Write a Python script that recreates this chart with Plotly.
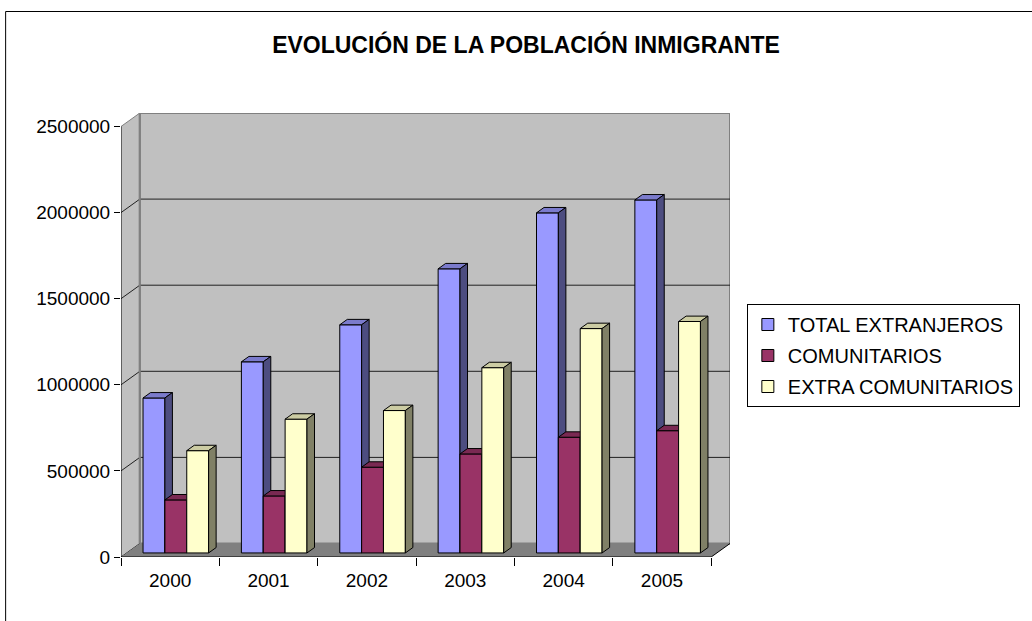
import plotly.graph_objects as go

# ---------------- data ----------------
years = ["2000", "2001", "2002", "2003", "2004", "2005"]
total_extranjeros = [900000, 1110000, 1325000, 1650000, 1975000, 2050000]
comunitarios = [308000, 331000, 498000, 575000, 672000, 710000]
extra_comunitarios = [594000, 777000, 827000, 1076000, 1303000, 1344000]
series_names = ["TOTAL EXTRANJEROS", "COMUNITARIOS", "EXTRA COMUNITARIOS"]
y_ticks = [0, 500000, 1000000, 1500000, 2000000, 2500000]
title_text = "EVOLUCIÓN DE LA POBLACIÓN INMIGRANTE"

series_values = [total_extranjeros, comunitarios, extra_comunitarios]

# ---------------- style ----------------
FONT = "Liberation Sans, Arial, sans-serif"
front_col = ["#9999FF", "#993366", "#FFFFCC"]
top_col = ["#7B7BCC", "#7A2952", "#CCCCA3"]
side_col = ["#4D4D80", "#4D1A33", "#808066"]

W, H = 1032, 621
cat_px = 99.33                 # pixels per category
val_px = 86.1 / 500000         # pixels per value unit
depth_x = 19 / cat_px          # 3D depth offset in category units
depth_y = 13.5 / val_px        # 3D depth offset in value units
y_top = y_ticks[-1]
n = len(years)

x_range = [-0.5, n - 0.5 + depth_x]
y_range = [0, y_top + depth_y]
plot_w = (x_range[1] - x_range[0]) * cat_px
plot_h = (y_range[1] - y_range[0]) * val_px
ML, MB = 121, 64
MT = H - MB - plot_h
MR = W - ML - plot_w

bw = 1 / 4.5          # bar width (gap width 150%)
f0, f1 = 0.3, 0.7     # depth slice occupied by the bars

fig = go.Figure()

# ---------------- walls / floor (shapes) ----------------
shapes = []
lx0, lx1 = -0.5, -0.5 + depth_x
rx0, rx1 = n - 0.5, n - 0.5 + depth_x
# left wall
shapes.append(dict(type="path", xref="x", yref="y", layer="below",
                   path=f"M{lx0},0 L{lx1},{depth_y} L{lx1},{y_top + depth_y} L{lx0},{y_top} Z",
                   fillcolor="#C0C0C0", line=dict(color="#C0C0C0", width=0)))
# back wall
shapes.append(dict(type="rect", xref="x", yref="y", layer="below",
                   x0=lx1, x1=rx1, y0=depth_y, y1=y_top + depth_y,
                   fillcolor="#C0C0C0", line=dict(color="#808080", width=2)))
# gridlines on back wall and left wall
for v in y_ticks:
    if 0 < v < y_top:
        shapes.append(dict(type="line", xref="x", yref="y", layer="below",
                           x0=lx1, x1=rx1, y0=v + depth_y, y1=v + depth_y,
                           line=dict(color="#202020", width=1)))
    shapes.append(dict(type="line", xref="x", yref="y", layer="below",
                       x0=lx0, x1=lx1, y0=v, y1=v + depth_y,
                       line=dict(color="#202020" if v < y_top else "#808080", width=1)))
# floor
shapes.append(dict(type="path", xref="x", yref="y", layer="below",
                   path=f"M{lx0},0 L{rx0},0 L{rx1},{depth_y} L{lx1},{depth_y} Z",
                   fillcolor="#808080", line=dict(color="#808080", width=0)))
# edge between left wall and back wall
shapes.append(dict(type="line", xref="x", yref="y", layer="below",
                   x0=lx1, x1=lx1, y0=depth_y, y1=y_top + depth_y,
                   line=dict(color="#808080", width=2)))
# front axes
shapes.append(dict(type="line", xref="x", yref="y", layer="above",
                   x0=lx0, x1=lx0, y0=0, y1=y_top, line=dict(color="black", width=1)))
shapes.append(dict(type="line", xref="x", yref="y", layer="above",
                   x0=lx0, x1=rx0, y0=0, y1=0, line=dict(color="black", width=1)))
shapes.append(dict(type="line", xref="x", yref="y", layer="above",
                   x0=rx0, x1=rx1, y0=0, y1=depth_y, line=dict(color="black", width=1)))
# outer chart border
px2x = lambda p: (p - ML) / plot_w
py2y = lambda p: (H - MB - p) / plot_h
shapes.append(dict(type="rect", xref="paper", yref="paper", layer="above",
                   x0=px2x(4.5), x1=px2x(W + 10), y0=py2y(H + 10), y1=py2y(11.5),
                   line=dict(color="black", width=1), fillcolor="rgba(0,0,0,0)"))

# ---------------- 3D bars as polygons ----------------
ddx = (f1 - f0) * depth_x
ddy = (f1 - f0) * depth_y
sx = f0 * depth_x
sy = f0 * depth_y


def poly_trace(xs, ys, color):
    return go.Scatter(x=xs, y=ys, mode="lines", fill="toself", fillcolor=color,
                      line=dict(color="black", width=1), hoverinfo="skip",
                      showlegend=False)


for j, vals in enumerate(series_values):
    fx, fy, tx, ty, sxs, sys_ = [], [], [], [], [], []
    for i, v in enumerate(vals):
        x0 = i + (j - 1) * bw - bw / 2 + sx
        x1 = x0 + bw
        yb = sy
        yt = sy + v
        fx += [x0, x1, x1, x0, x0, None]
        fy += [yb, yb, yt, yt, yb, None]
        tx += [x0, x1, x1 + ddx, x0 + ddx, x0, None]
        ty += [yt, yt, yt + ddy, yt + ddy, yt, None]
        sxs += [x1, x1 + ddx, x1 + ddx, x1, x1, None]
        sys_ += [yb, yb + ddy, yt + ddy, yt, yb, None]
    fig.add_trace(poly_trace(fx, fy, front_col[j]))
    fig.add_trace(poly_trace(tx, ty, top_col[j]))
    fig.add_trace(poly_trace(sxs, sys_, side_col[j]))

# legend entries
for j, name in enumerate(series_names):
    fig.add_trace(go.Bar(x=[None], y=[None], name=name, legendgroup=name,
                         marker=dict(color=front_col[j], line=dict(color="black", width=1))))

fig.update_layout(
    width=W, height=H,
    margin=dict(l=ML, r=MR, t=MT, b=MB, pad=0),
    paper_bgcolor="white", plot_bgcolor="white",
    font=dict(family=FONT, size=19, color="black"),
    title=dict(text=f"<b>{title_text}</b>", x=526 / W, xref="container", xanchor="center",
               y=1 - 45 / H, yref="container", yanchor="middle",
               font=dict(family=FONT, size=23, color="black")),
    barmode="overlay",
    showlegend=True,
    legend=dict(x=px2x(753), y=py2y(304), xanchor="left", yanchor="top",
                bordercolor="black", borderwidth=1, bgcolor="white",
                font=dict(family=FONT, size=20, color="black"),
                tracegroupgap=2, itemclick=False, itemdoubleclick=False),
    shapes=shapes,
    xaxis=dict(range=x_range, showgrid=False, zeroline=False, showline=False,
               tickmode="array", tickvals=list(range(n)), ticktext=years, ticks="",
               tickfont=dict(family=FONT, size=19), ticklabelstandoff=10,
               minor=dict(tickmode="array", tickvals=[k - 0.5 for k in range(n + 1)],
                          ticks="outside", ticklen=8, tickcolor="black", tickwidth=1,
                          showgrid=False),
               fixedrange=True),
    yaxis=dict(range=y_range, showgrid=False, zeroline=False, showline=False,
               tickmode="array", tickvals=y_ticks, ticktext=[str(v) for v in y_ticks],
               ticks="outside", ticklen=6, tickcolor="black", tickwidth=1,
               tickfont=dict(family=FONT, size=19), fixedrange=True),
)

fig.write_html("out.html", config={"displayModeBar": False},
               post_script="document.body.style.margin='0px';document.body.style.overflow='hidden';")
